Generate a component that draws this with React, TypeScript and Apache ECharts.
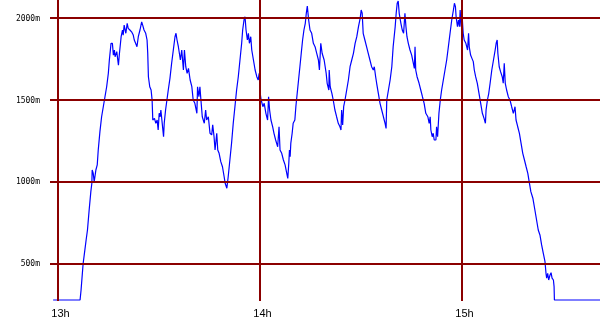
import React, { useEffect, useRef } from "react";
import * as echarts from "echarts";

// x: minutes after 13:00, y: altitude in metres
const hourTicks = [0, 60, 120];
const hourLabels = ["13h", "14h", "15h"];
const altitudeTicks = [500, 1000, 1500, 2000];

const track: [number, number][] = [
  [-1.3, 280], [6.7, 280], [7.0, 341], [7.6, 500], [8.5, 646], [8.9, 707], [9.4, 829], [9.9, 941], [10.2, 992], [10.3, 1073],
  [10.6, 1053], [10.9, 1002], [11.4, 1073], [11.8, 1104], [12.1, 1195], [12.6, 1307], [13.1, 1398], [13.6, 1459], [14.1, 1520], [14.6, 1581],
  [15.1, 1663], [15.4, 1744], [15.9, 1846], [16.3, 1846], [16.6, 1774], [16.9, 1805], [17.1, 1764], [17.6, 1795], [18.1, 1713], [18.4, 1785],
  [18.9, 1886], [19.3, 1927], [19.5, 1896], [19.8, 1957], [20.3, 1907], [20.7, 1968], [21.0, 1937], [21.5, 1927], [22.0, 1916], [22.5, 1896],
  [22.8, 1866], [23.2, 1846], [23.6, 1825], [24.0, 1886], [24.5, 1927], [25.0, 1977], [25.3, 1957], [25.7, 1927], [26.2, 1907], [26.6, 1866],
  [26.8, 1785], [27.0, 1642], [27.4, 1581], [27.8, 1561], [28.1, 1500], [28.3, 1378], [28.8, 1388], [29.2, 1358], [29.6, 1378], [29.9, 1317],
  [30.2, 1419], [30.5, 1398], [30.7, 1439], [31.1, 1358], [31.5, 1276], [31.7, 1358], [32.1, 1439], [32.5, 1500], [32.9, 1561], [33.4, 1632],
  [33.9, 1724], [34.4, 1805], [34.9, 1886], [35.2, 1907], [35.5, 1866], [35.9, 1825], [36.5, 1744], [36.9, 1805], [37.4, 1683], [37.7, 1805],
  [38.1, 1703], [38.5, 1663], [38.9, 1693], [39.4, 1622], [39.9, 1581], [40.3, 1500], [40.8, 1480], [41.4, 1419], [41.6, 1581], [42.0, 1520],
  [42.3, 1581], [42.6, 1500], [43.0, 1398], [43.6, 1358], [44.0, 1439], [44.3, 1378], [44.8, 1398], [45.3, 1297], [45.8, 1287], [46.1, 1348],
  [46.5, 1276], [46.8, 1195], [47.3, 1297], [47.6, 1195], [48.0, 1175], [48.5, 1124], [49.0, 1093], [49.5, 1032], [49.8, 992], [50.3, 962],
  [50.7, 1032], [51.2, 1134], [51.7, 1236], [52.2, 1358], [52.7, 1459], [53.2, 1561], [53.7, 1642], [54.2, 1744], [54.7, 1846], [55.0, 1927],
  [55.4, 1988], [55.7, 2008], [56.0, 1927], [56.4, 1866], [56.7, 1907], [57.0, 1846], [57.4, 1886], [57.7, 1805], [58.2, 1744], [58.7, 1683],
  [59.2, 1642], [59.6, 1622], [59.9, 1663], [60.2, 1541], [60.5, 1500], [61.0, 1459], [61.4, 1480], [61.9, 1419], [62.4, 1378], [62.7, 1520],
  [63.0, 1439], [63.4, 1378], [63.9, 1337], [64.3, 1297], [64.8, 1256], [65.4, 1215], [65.8, 1337], [66.1, 1195], [66.6, 1175], [67.1, 1134],
  [67.6, 1104], [68.1, 1053], [68.4, 1022], [68.7, 1114], [68.9, 1195], [69.1, 1154], [69.3, 1236], [69.7, 1297], [70.0, 1358], [70.5, 1378],
  [70.8, 1459], [71.2, 1541], [71.6, 1622], [72.0, 1703], [72.4, 1785], [72.8, 1866], [73.2, 1927], [73.6, 1968], [73.9, 2029], [74.2, 2073],
  [74.6, 1988], [75.0, 1927], [75.5, 1907], [76.0, 1846], [76.5, 1825], [77.0, 1785], [77.5, 1744], [77.8, 1683], [78.2, 1846], [78.6, 1785],
  [79.2, 1744], [79.8, 1663], [80.1, 1602], [80.6, 1561], [80.7, 1683], [81.0, 1581], [81.5, 1541], [81.9, 1500], [82.4, 1439], [82.9, 1398],
  [83.4, 1358], [83.9, 1337], [84.2, 1317], [84.4, 1439], [84.7, 1348], [85.0, 1459], [85.4, 1500], [85.9, 1561], [86.4, 1622], [86.9, 1703],
  [87.4, 1744], [87.9, 1785], [88.4, 1846], [88.9, 1886], [89.4, 1947], [89.9, 1998], [90.2, 2049], [90.5, 2029], [90.8, 1907], [91.3, 1866],
  [91.8, 1825], [92.3, 1785], [92.8, 1744], [93.3, 1703], [93.8, 1683], [94.1, 1703], [94.5, 1642], [94.8, 1602], [95.3, 1541], [95.8, 1480],
  [96.3, 1439], [96.8, 1398], [97.3, 1358], [97.6, 1327], [97.8, 1500], [98.3, 1561], [98.8, 1622], [99.3, 1703], [99.7, 1825], [100.3, 1947],
  [100.6, 2029], [100.9, 2090], [101.2, 2104], [101.5, 2029], [102.0, 1968], [102.4, 1927], [102.8, 1907], [103.2, 2029], [103.5, 1947], [103.8, 1886],
  [104.2, 1846], [104.7, 1805], [105.2, 1774], [105.7, 1724], [106.0, 1693], [106.2, 1825], [106.4, 1683], [106.8, 1642], [107.4, 1602], [107.9, 1561],
  [108.4, 1520], [108.9, 1480], [109.4, 1419], [110.0, 1398], [110.4, 1358], [110.7, 1398], [110.9, 1317], [111.3, 1276], [111.6, 1297], [111.9, 1256],
  [112.4, 1256], [112.6, 1337], [112.9, 1276], [113.3, 1419], [113.7, 1500], [114.1, 1561], [114.6, 1622], [115.1, 1683], [115.6, 1744], [116.1, 1825],
  [116.6, 1907], [117.1, 1988], [117.6, 2049], [117.9, 2090], [118.2, 2069], [118.4, 2008], [118.8, 1947], [119.1, 1988], [119.4, 1947], [119.6, 2049],
  [119.9, 1947], [120.2, 2008], [120.5, 1907], [120.8, 1866], [121.3, 1846], [121.8, 1805], [122.1, 1907], [122.3, 1825], [122.7, 1774], [123.1, 1754],
  [123.5, 1734], [123.8, 1683], [124.2, 1642], [124.7, 1602], [125.2, 1541], [125.7, 1480], [126.2, 1419], [126.7, 1388], [127.1, 1358], [127.3, 1439],
  [127.7, 1500], [128.1, 1541], [128.5, 1602], [129.0, 1683], [129.5, 1744], [130.0, 1805], [130.3, 1846], [130.6, 1866], [130.8, 1785], [131.2, 1703],
  [131.6, 1673], [132.1, 1642], [132.4, 1602], [132.7, 1724], [133.0, 1602], [133.4, 1561], [133.9, 1520], [134.4, 1500], [134.9, 1459], [135.4, 1419],
  [135.9, 1459], [136.2, 1378], [136.7, 1337], [137.2, 1297], [137.7, 1236], [138.2, 1175], [138.7, 1134], [139.2, 1093], [139.7, 1053], [140.1, 1002],
  [140.6, 941], [141.2, 901], [141.8, 829], [142.8, 707], [143.3, 677], [143.8, 616], [144.3, 565], [144.8, 514], [145.1, 443], [145.3, 413],
  [145.6, 443], [145.9, 402], [146.3, 433], [146.6, 447], [146.9, 413], [147.3, 402], [147.5, 362], [147.6, 280], [161.2, 280],
];

export default function App() {
  const ref = useRef<HTMLDivElement>(null);
  useEffect(() => {
    const chart = echarts.init(ref.current!, null, { renderer: "svg" });
    const gridRed = "#8b0000";
    chart.setOption({
      animation: false,
      grid: { left: 50, right: 0, top: 0, bottom: 29 },
      xAxis: {
        type: "value",
        min: -2.23,
        max: 161.14,
        axisLine: { show: false },
        axisTick: { show: false },
        splitLine: { show: false },
        axisLabel: {
          customValues: hourTicks,
          formatter: (v: number) => {
            const i = hourTicks.indexOf(v);
            return i >= 0 ? hourLabels[i] : "";
          },
          fontFamily: "Liberation Sans",
          fontSize: 11,
          color: "#000",
          margin: 6,
          padding: [0, 0, 0, 6],
        },
      },
      yAxis: {
        type: "value",
        min: 274,
        max: 2110,
        axisLine: { show: false },
        axisTick: { show: false },
        splitLine: { show: false },
        axisLabel: {
          customValues: altitudeTicks,
          formatter: (v: number) => `${v}m`,
          fontFamily: "DejaVu Sans Mono",
          fontSize: 8,
          color: "#000",
          margin: 10,
          padding: [8, 0, 0, 0],
        },
      },
      series: [
        {
          type: "line",
          data: [],
          z: 1,
          markLine: {
            silent: true,
            symbol: "none",
            label: { show: false },
            lineStyle: { color: gridRed, width: 2, type: "solid" },
            emphasis: { disabled: true },
            data: [
              ...altitudeTicks.map((v) => ({ yAxis: v })),
              ...hourTicks.map((v) => ({ xAxis: v })),
            ],
          },
        },
        {
          type: "line",
          data: track,
          z: 3,
          showSymbol: false,
          symbol: "none",
          lineStyle: { color: "#0000ff", width: 1.2 },
        },
      ],
    });
    return () => chart.dispose();
  }, []);
  return (
    <div
      ref={ref}
      style={{ position: "fixed", left: 0, top: 0, width: 600, height: 330 }}
    />
  );
}
